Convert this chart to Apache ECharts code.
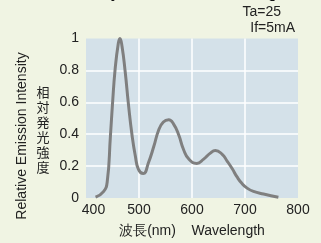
<!DOCTYPE html>
<html>
<head>
<meta charset="utf-8">
<script src="https://cdn.jsdelivr.net/npm/echarts@6/dist/echarts.min.js"></script>
<style>
  html, body { margin: 0; padding: 0; background: #f0f4e3; }
  #chart { width: 321px; height: 243px; }
</style>
</head>
<body>
<div id="chart"></div>
<script>
// wavelength (nm) and relative intensity
const wavelength = [418, 433, 440, 446, 450, 455, 461, 464, 468, 474, 480, 487, 493, 499, 508,
  518, 528, 537, 546, 556, 565, 575, 584, 594, 609, 622, 634, 644, 657, 666, 676, 685, 694, 704, 716, 735, 763];
const intensity = [0.005, 0.04, 0.10, 0.385, 0.59, 0.81, 0.97, 1.0, 0.95, 0.79, 0.59, 0.39, 0.265, 0.18, 0.153,
  0.223, 0.324, 0.425, 0.476, 0.49, 0.465, 0.395, 0.304, 0.244, 0.217, 0.244, 0.28, 0.298, 0.274, 0.233, 0.183, 0.132, 0.092, 0.062, 0.041, 0.025, 0.005];
const xTicks = [400, 500, 600, 700, 800];
const yTicks = [0, 0.2, 0.4, 0.6, 0.8, 1];

const textColor = '#222';
const font = 'Liberation Sans, Arial, sans-serif';

const chart = echarts.init(document.getElementById('chart'));
const points = wavelength.map((w, i) => [w, intensity[i]]);

chart.setOption({
  animation: false,
  backgroundColor: '#f0f4e3',
  grid: {
    left: 86,
    top: 38.5,
    width: 212,
    height: 165,
    show: true,
    backgroundColor: '#d4e1e9',
    borderWidth: 0
  },
  xAxis: {
    type: 'value',
    min: xTicks[0],
    max: xTicks[xTicks.length - 1],
    interval: 100,
    axisLine: { show: false },
    axisTick: { show: false },
    splitLine: { show: true, showMinLine: false, showMaxLine: false, lineStyle: { color: '#fff', width: 1.5 } },
    axisLabel: {
      color: textColor,
      fontSize: 14,
      fontFamily: font,
      margin: 5,
      formatter: v => v === 400 ? '{a|' + v + '}' : v,
      rich: { a: { padding: [0, 0, 0, 15], fontSize: 14, fontFamily: font, color: textColor } }
    },
    name: '波長(nm)    Wavelength',
    nameLocation: 'middle',
    nameGap: 26,
    nameTextStyle: { color: textColor, fontSize: 14, fontFamily: font }
  },
  yAxis: {
    type: 'value',
    min: yTicks[0],
    max: yTicks[yTicks.length - 1],
    interval: 0.2,
    axisLine: { show: false },
    axisTick: { show: false },
    splitLine: { show: true, showMinLine: false, showMaxLine: false, lineStyle: { color: '#fff', width: 1.5 } },
    axisLabel: {
      color: textColor,
      fontSize: 14,
      fontFamily: font,
      margin: 7,
      formatter: v => String(+v.toFixed(1))
    }
  },
  graphic: [
    {
      type: 'text',
      x: 22, y: 136,
      rotation: Math.PI / 2,
      style: {
        text: 'Relative Emission Intensity',
        fill: textColor,
        font: '14px ' + font,
        align: 'center',
        verticalAlign: 'middle'
      }
    },
    {
      type: 'text',
      x: 43, y: 130,
      style: {
        text: '相\n対\n発\n光\n強\n度',
        fill: textColor,
        fontSize: 13,
        fontFamily: 'Noto Sans CJK JP',
        lineHeight: 15,
        align: 'center',
        verticalAlign: 'middle'
      }
    },
    {
      type: 'text',
      x: 281, y: 12,
      style: { text: 'Ta=25', fill: textColor, font: '14px ' + font, align: 'right', verticalAlign: 'middle' }
    },
    {
      type: 'text',
      x: 295, y: 28,
      style: { text: 'If=5mA', fill: textColor, font: '14px ' + font, align: 'right', verticalAlign: 'middle' }
    },
    {
      type: 'text',
      x: 290, y: -6,
      style: { text: 'Relative Intensity vs. Emission Wavelength', fill: '#111', font: 'bold 14px ' + font, align: 'right', verticalAlign: 'middle' }
    }
  ],
  series: [{
    type: 'line',
    data: points,
    smooth: 0.5,
    showSymbol: false,
    lineStyle: { color: '#7f7f7f', width: 3 }
  }]
});
</script>
</body>
</html>
